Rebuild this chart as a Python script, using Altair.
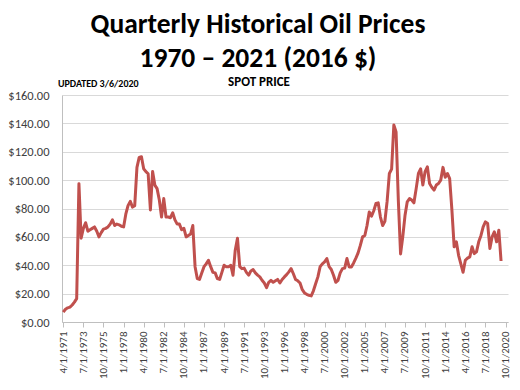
import altair as alt
import pandas as pd

# Quarterly spot price (2016 $), first quarter 4/1/1971
prices = [
    7, 9, 10, 10.5, 12, 14, 16.5, 97.5, 59, 66,
    70, 64, 65, 66, 67, 64, 60, 63, 65.5, 66,
    67, 69, 72, 68, 69, 68.5, 67.5, 67, 76, 82,
    85, 81, 82, 109, 116, 116.5, 108, 106, 104.5, 79,
    106, 96.5, 94, 86, 74, 87, 74, 74, 73.5, 77,
    72, 69, 69, 65, 66, 60, 61, 62, 68, 39,
    30.6, 30, 34.6, 39, 41, 43.5, 39, 35, 34.6, 30.6,
    30, 35, 40, 39, 39, 40, 33, 50.6, 59, 39,
    37.6, 38, 35, 33, 36, 37, 34.6, 33, 31.8, 29.4,
    27.5, 24.2, 28, 29.4, 28, 29, 30, 27.5, 30, 31.8,
    33.4, 35.3, 37.6, 34, 30, 29, 27.5, 22.8, 20.5, 19.5,
    18.8, 18.4, 22, 27, 31.8, 39, 41, 42.4, 44.7, 39,
    37, 33, 28, 29.4, 34.6, 37.6, 38, 44.7, 38.8, 38.8,
    41.6, 45, 48.7, 54, 60, 61, 68, 77.6, 74.6, 78.4,
    83.5, 84, 74, 68, 71, 85, 104.7, 107.8, 138.8, 134,
    86, 48, 60, 75, 84.7, 87, 86, 84, 94, 104.7,
    108, 96.5, 106, 109.4, 97.6, 95, 93, 96.5, 97.6, 100,
    109, 102, 104.7, 101, 78.8, 53, 56.5, 47, 41, 35,
    43.5, 45, 45.9, 53, 48.2, 49.4, 56.5, 61, 67, 70.6,
    69.4, 51.8, 60, 63.5, 56.5, 64.7, 43,
]
quarters = pd.date_range("1971-04-01", periods=len(prices), freq="QS").strftime("%Y-%m-%d").tolist()

tick_years = [1971, 1973, 1975, 1978, 1980, 1982, 1984, 1987, 1989, 1991, 1993, 1996,
              1998, 2000, 2002, 2005, 2007, 2009, 2011, 2014, 2016, 2018, 2020]
tick_months = [4, 7, 10, 1] * 6
y_ticks = [0, 20, 40, 60, 80, 100, 120, 140, 160]

df = pd.DataFrame({"date": quarters, "price": prices})

FONT = "Carlito, Lato, sans-serif"
GRAY = "#404040"

x_values = [alt.DateTime(year=y, month=m, date=1, utc=True) for y, m in zip(tick_years, tick_months)]

line = alt.Chart(df).mark_line(color="#C0504D", strokeWidth=3, strokeJoin="round").encode(
    x=alt.X(
        "date:T",
        scale=alt.Scale(type="utc",
                        domain=[alt.DateTime(year=1971, month=2, date=9, utc=True),
                                alt.DateTime(year=2021, month=1, date=10, utc=True)]),
        axis=alt.Axis(
            title=None, values=x_values,
            labelExpr="utcFormat(datum.value, '%-m/%-d/%Y')",
            labelAngle=270, labelAlign="right", labelBaseline="middle",
            labelFontSize=11, labelFont=FONT, labelColor=GRAY, labelPadding=4,
            grid=False, domainColor="#BFBFBF", tickColor="#BFBFBF", tickSize=5,
            labelOverlap=False, labelFlush=False,
        ),
    ),
    y=alt.Y(
        "price:Q",
        scale=alt.Scale(domain=[0, 160], nice=False),
        axis=alt.Axis(
            title=None, values=y_ticks, format="$.2f",
            labelFontSize=12.5, labelFont=FONT, labelColor=GRAY, labelPadding=13,
            ticks=False, gridColor="#D9D9D9", domainColor="#BFBFBF",
        ),
    ),
)

updated = alt.Chart().mark_text(
    text="UPDATED 3/6/2020", font=FONT, fontSize=10, fontWeight="bold",
    align="left", baseline="alphabetic", color="#000000",
).encode(x=alt.value(-4), y=alt.value(-8))

spot = alt.Chart().mark_text(
    text="SPOT PRICE", font=FONT, fontSize=13, fontWeight="bold",
    align="center", baseline="alphabetic", color="#000000",
).encode(x=alt.value(197), y=alt.value(-9))

chart = alt.layer(line, updated, spot).properties(
    width=446,
    height=227,
    title=alt.Title(
        text=["Quarterly Historical Oil Prices", "1970 \u2013 2021 (2016 $)"],
        font=FONT, fontSize=27.5, fontWeight="bold", color="#000000",
        lineHeight=34, anchor="middle", dx=-27, offset=4,
    ),
    autosize=alt.AutoSizeParams(type="none"),
    padding={"left": 54, "top": 87, "right": 4, "bottom": 56},
).configure_view(stroke=None)

chart.save("out.html", embed_options={"renderer": "svg", "actions": False})
